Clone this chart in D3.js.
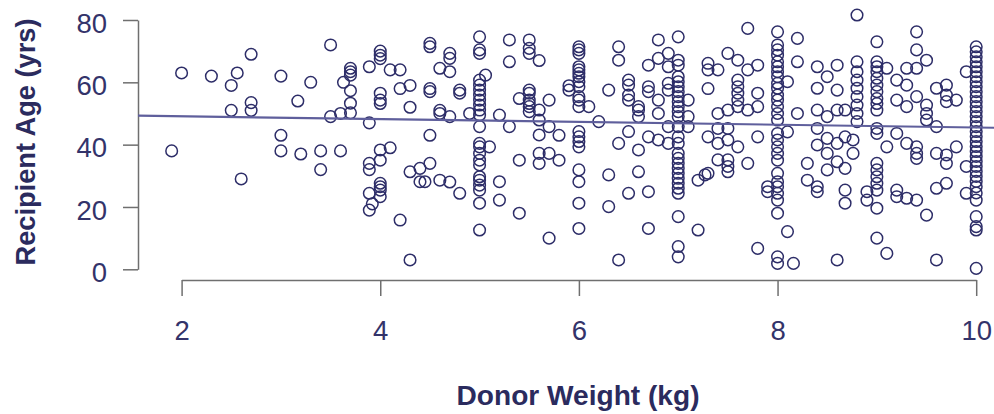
<!DOCTYPE html>
<html>
<head>
<meta charset="utf-8">
<script src="https://cdn.jsdelivr.net/npm/d3@7"></script>
<style>
  body { margin: 0; background: #fff; }
  svg { display: block; }
</style>
</head>
<body>
<div id="scatter"></div>
<script>
// recipient ages, grouped by donor weight (kg)
var agesByWeight = [
  [1.9, [38]], [2.0, [63]], [2.3, [62]], [2.5, [59, 51]], [2.56, [63]], [2.6, [29]],
  [2.7, [53.5, 51, 69]], [3.0, [62, 43, 38]], [3.17, [54]], [3.2, [37]], [3.3, [60]],
  [3.4, [38, 32]], [3.5, [72, 49]], [3.6, [38, 50]], [3.63, [60]],
  [3.7, [64.5, 63.4, 62.3, 57.3, 53.3, 50.2]],
  [3.89, [65, 47, 34, 32, 24.4, 19]], [3.92, [21]],
  [4.0, [70, 68.7, 67.6, 56.5, 54.3, 53.2, 38.3, 35, 27.6, 26.5, 25.4, 23.3]],
  [4.1, [64, 39]], [4.2, [64, 58, 15.8]], [4.3, [59, 52, 3, 31.3]], [4.4, [32.4, 28.1]],
  [4.45, [28.1]], [4.5, [72.5, 71.4, 58, 57, 43, 34]], [4.6, [51, 50, 28.6, 64.5]],
  [4.7, [69.3, 67.7, 63.4, 49, 28]], [4.8, [57.5, 56.5, 24.4]], [4.9, [50]],
  [5.0, [74.6, 70.4, 69.3, 60.7, 59.1, 57.5, 55.9, 54.3, 52.7, 51.1, 49.5, 45.8, 40.4,
         39.3, 37.2, 35, 33.5, 29.7, 28.6, 27, 25.4, 21.2, 12.6]],
  [5.06, [62.3]], [5.1, [39.3]], [5.2, [28.1, 22.2, 49.5]], [5.3, [73.6, 66.6, 45.8]],
  [5.4, [35, 54.8, 18]], [5.5, [73.6, 70.9, 69.3, 57.5, 56.5, 54.3, 53.2, 52.2, 50.6]],
  [5.6, [67, 51.1, 47.9, 43.1, 37.2, 34]], [5.7, [54.3, 37.2, 45.8, 10]],
  [5.8, [35, 43]], [5.9, [58.9, 57.5]],
  [6.0, [71.4, 70.4, 69.3, 65, 64, 62.9, 61.8, 60.2, 58.6, 55.4, 54.3, 52.2, 44.2, 42.5,
         41, 39.3, 31.9, 28.1, 21.2, 13.1]],
  [6.1, [52.2]], [6.2, [47.4]], [6.3, [57.5, 30.3, 20.1]], [6.4, [71.4, 67.1, 40.4, 3]],
  [6.5, [60.7, 59.1, 55.9, 54.3, 44.2, 24.4]], [6.6, [52.2, 51.1, 49, 38.3, 31.3]],
  [6.7, [65.5, 58.6, 57, 42.5, 24.9, 13.1]], [6.8, [73.6, 67.7, 54.3, 50, 41.5]],
  [6.9, [69.3, 65, 59.7, 57.5, 45.8, 40.4]],
  [7.0, [74.6, 67.1, 65.5, 61.8, 60.2, 58.6, 57, 55.4, 53.8, 52.2, 50.6, 49, 45.8, 42.5,
         40.4, 37.2, 35.6, 34, 32.4, 30.8, 29.2, 27.6, 26, 24.4, 16.9, 7.3, 4]],
  [7.1, [54.3, 49, 45.8]], [7.2, [28.6, 12.6]], [7.27, [30.3]],
  [7.3, [30.8, 66.1, 64, 58, 42.5]], [7.4, [64, 50, 45.2, 40.4, 35.1]],
  [7.5, [69.3, 51.1, 45.2, 41.5, 35.1, 33, 31.3]],
  [7.6, [67.1, 60.7, 58.6, 56.5, 54.3, 52.2, 39.3]], [7.7, [77.3, 64, 51.1, 34]],
  [7.8, [6.7, 65.5, 56.5, 52.2, 42.5]], [7.9, [26.5, 24.9]],
  [8.0, [76.2, 72, 70.4, 68.7, 66.6, 65, 63.4, 61.8, 59.7, 58.1, 55.9, 54.3, 52.2, 50,
         47.9, 43.6, 41.5, 39.3, 37.2, 35, 30.8, 28.1, 26.5, 24.4, 22.2, 18, 4, 1.9]],
  [8.1, [60.2, 44.1, 12.1]], [8.16, [1.9]], [8.2, [74.1, 66.6, 50]], [8.3, [34, 28.6]],
  [8.4, [65, 58.1, 51.1, 45.2, 39.9, 26.5, 24.9]], [8.5, [61.8, 49, 42, 37.2, 31.9]],
  [8.6, [65.5, 57.5, 51.1, 40.4, 34.5, 3]], [8.68, [51.1, 42.5, 32.4, 25.4, 21.2]],
  [8.76, [41.5, 37.2]], [8.8, [81.6, 66.6, 63.4, 60.7, 58.1, 55.4, 52.7, 50, 47.4]],
  [8.9, [24.9, 22.2]],
  [9.0, [73, 66.6, 65, 63.4, 61.3, 59.1, 57, 54.8, 53.2, 51.1, 45.2, 43.6, 34, 31.9,
         29.7, 27.6, 25.4, 19.6, 10]],
  [9.1, [64.5, 39.3, 5.1]], [9.2, [60.7, 54.3, 43.6, 25.4, 23.3]],
  [9.3, [64.5, 59.1, 52.2, 40.4, 22.8]], [9.4, [76.2, 70.4, 64.5, 55.4, 39.3, 37.2, 35.6, 22.2]],
  [9.5, [67.1, 52.7, 50, 47.9, 17.4]], [9.6, [58.1, 45.8, 37.2, 26, 3]],
  [9.7, [59.1, 55.9, 53.8, 36.7, 34, 27.6]], [9.8, [54.3, 39.3]], [9.9, [63.4, 33, 24.4]],
  [10.0, [71.4, 69.8, 68.2, 66.6, 65, 63.4, 61.8, 60.2, 58.6, 57, 55.4, 53.8, 52.2, 50.6,
          49, 47.4, 45.8, 44.2, 42.6, 41, 39.4, 37.8, 36.2, 34.6, 33, 31.4, 29.8, 28.2,
          26.5, 24.5, 22.2, 16.9, 13.7, 12.6, 0.3]]
];

var xTicks = [2, 4, 6, 8, 10];
var yTicks = [0, 20, 40, 60, 80];
// fitted line: age = intercept + slope * weight
var fitCoef = [50.0, -0.45];

var svgWidth = 994;
var svgHeight = 414;
var navy = '#2d2d68';
var font = '"Liberation Sans", Arial, sans-serif';

var svg = d3.select('#scatter')
    .append('svg')
    .attr('width', svgWidth)
    .attr('height', svgHeight);

// plot region spans 138..1008 horizontally, 7..280 vertically
var xScale = d3.scaleLinear().domain([2, 10]).range([181.6, 976.2]);
var yScale = d3.scaleLinear().domain([0, 80]).range([269.3, 20]);
var xMin = xScale.invert(138), xMax = xScale.invert(1008);

// flatten the groups into points
var points = [];
agesByWeight.forEach(function(g){
    g[1].forEach(function(a){ points.push({w: g[0], age: a}); });
});

// axes
var bottomAxis = d3.axisBottom(xScale).tickValues(xTicks).tickSize(16).tickPadding(24).tickSizeOuter(0);
var leftAxis = d3.axisLeft(yScale).tickValues(yTicks).tickSize(15).tickPadding(16).tickSizeOuter(0);

var xg = svg.append('g')
    .attr('transform', 'translate(0,280)')
    .call(bottomAxis);
var yg = svg.append('g')
    .attr('transform', 'translate(138,0)')
    .call(leftAxis);
yg.selectAll('text').attr('dy', '0.44em');

[xg, yg].forEach(function(g){
    g.selectAll('path, line').attr('stroke', '#6f6f6f').attr('stroke-width', 1.5);
    g.selectAll('text')
        .attr('fill', '#33336a')
        .style('font-family', font)
        .style('font-size', '27.5px');
});

// points
svg.append('g').selectAll('circle')
    .data(points)
    .enter()
    .append('circle')
        .attr('cx', d => xScale(d.w))
        .attr('cy', d => yScale(d.age))
        .attr('r', 5.8)
        .attr('fill', 'none')
        .attr('stroke', navy)
        .attr('stroke-width', 1.5);

// regression line
svg.append('line')
    .attr('x1', xScale(xMin))
    .attr('y1', yScale(fitCoef[0] + fitCoef[1] * xMin))
    .attr('x2', xScale(xMax))
    .attr('y2', yScale(fitCoef[0] + fitCoef[1] * xMax))
    .attr('stroke', '#5f5f9c')
    .attr('stroke-width', 2.2);

// axis titles
svg.append('text')
    .attr('x', 578)
    .attr('y', 405)
    .attr('text-anchor', 'middle')
    .attr('fill', '#2b2b5e')
    .style('font-family', font)
    .style('font-weight', 'bold')
    .style('font-size', '27.5px')
    .attr('textLength', 243)
    .attr('lengthAdjust', 'spacingAndGlyphs')
    .text('Donor Weight (kg)');

svg.append('text')
    .attr('transform', 'translate(35,142) rotate(-90)')
    .attr('text-anchor', 'middle')
    .attr('fill', '#2b2b5e')
    .style('font-family', font)
    .style('font-weight', 'bold')
    .style('font-size', '27.5px')
    .attr('textLength', 247)
    .attr('lengthAdjust', 'spacingAndGlyphs')
    .text('Recipient Age (yrs)');
</script>
</body>
</html>
